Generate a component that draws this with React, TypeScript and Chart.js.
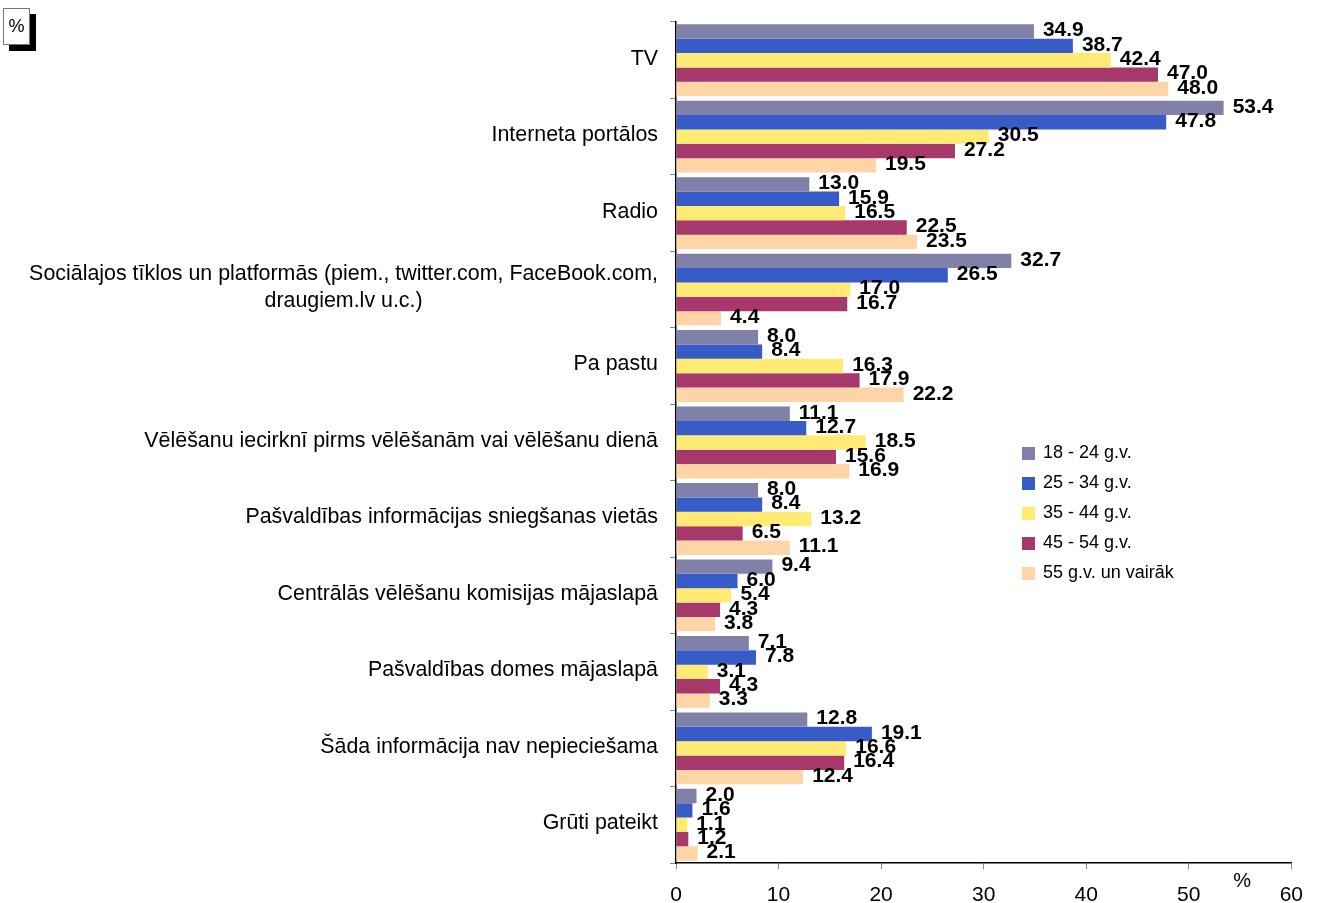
import React, { useEffect, useRef } from "react";
import { Chart, registerables } from "chart.js";

Chart.register(...registerables);

const categories: (string | string[])[] = [
  "TV",
  "Interneta portālos",
  "Radio",
  ["Sociālajos tīklos un platformās (piem., twitter.com, FaceBook.com,", "draugiem.lv u.c.)"],
  "Pa pastu",
  "Vēlēšanu iecirknī pirms vēlēšanām vai vēlēšanu dienā",
  "Pašvaldības informācijas sniegšanas vietās",
  "Centrālās vēlēšanu komisijas mājaslapā",
  "Pašvaldības domes mājaslapā",
  "Šāda informācija nav nepieciešama",
  "Grūti pateikt",
];

const seriesNames = ["18 - 24 g.v.", "25 - 34 g.v.", "35 - 44 g.v.", "45 - 54 g.v.", "55 g.v. un vairāk"];

const age18_24 = [34.9, 53.4, 13.0, 32.7, 8.0, 11.1, 8.0, 9.4, 7.1, 12.8, 2.0];
const age25_34 = [38.7, 47.8, 15.9, 26.5, 8.4, 12.7, 8.4, 6.0, 7.8, 19.1, 1.6];
const age35_44 = [42.4, 30.5, 16.5, 17.0, 16.3, 18.5, 13.2, 5.4, 3.1, 16.6, 1.1];
const age45_54 = [47.0, 27.2, 22.5, 16.7, 17.9, 15.6, 6.5, 4.3, 4.3, 16.4, 1.2];
const age55plus = [48.0, 19.5, 23.5, 4.4, 22.2, 16.9, 11.1, 3.8, 3.3, 12.4, 2.1];

const seriesColors = ["#8080A8", "#375BC7", "#FFEB74", "#A6386B", "#FFD5A8"];

const xMin = 0;
const xMax = 60;
const xStep = 10;

const FONT = '"Liberation Sans", Arial, sans-serif';

export default function App() {
  const canvasRef = useRef<HTMLCanvasElement | null>(null);

  useEffect(() => {
    const canvas = canvasRef.current;
    if (!canvas) return;
    const allSeries = [age18_24, age25_34, age35_44, age45_54, age55plus];

    const valueLabels = {
      id: "valueLabels",
      afterDatasetsDraw(chart: any) {
        const ctx = chart.ctx;
        ctx.save();
        ctx.font = `bold 21px ${FONT}`;
        ctx.fillStyle = "#000";
        ctx.textAlign = "left";
        ctx.textBaseline = "middle";
        chart.data.datasets.forEach((ds: any, di: number) => {
          const meta = chart.getDatasetMeta(di);
          meta.data.forEach((el: any, i: number) => {
            ctx.fillText((ds.data[i] as number).toFixed(1), el.x + 9, el.y - 1);
          });
        });
        ctx.restore();
      },
    };

    const categoryLabels = {
      id: "categoryLabels",
      afterDraw(chart: any) {
        const ctx = chart.ctx;
        const yScale = chart.scales.y;
        const right = chart.chartArea.left - 18;
        ctx.save();
        ctx.font = `21.4px ${FONT}`;
        ctx.fillStyle = "#000";
        ctx.textBaseline = "middle";
        categories.forEach((lab, i) => {
          const yc = yScale.getPixelForValue(i) - 1.5;
          if (Array.isArray(lab)) {
            const maxW = Math.max(...lab.map((l) => ctx.measureText(l).width));
            const cx = right - maxW / 2;
            const lh = 27;
            const y0 = yc - ((lab.length - 1) * lh) / 2;
            ctx.textAlign = "center";
            lab.forEach((l, k) => ctx.fillText(l, cx, y0 + k * lh));
          } else {
            ctx.textAlign = "right";
            ctx.fillText(lab, right, yc);
          }
        });
        // percent unit near x axis
        ctx.font = `20px ${FONT}`;
        ctx.textAlign = "center";
        ctx.fillText("%", chart.scales.x.getPixelForValue(55) + 2, chart.chartArea.bottom + 18);
        // legend
        ctx.font = `18px ${FONT}`;
        const lx = chart.chartArea.left + 346;
        const ly = 453;
        seriesNames.forEach((name, k) => {
          const y = ly + k * 30;
          ctx.fillStyle = seriesColors[k];
          ctx.fillRect(lx, y - 6, 13, 13);
          ctx.fillStyle = "#000";
          ctx.textAlign = "left";
          ctx.fillText(name, lx + 21, y);
        });
        ctx.restore();
      },
    };

    const chart = new Chart(canvas, {
      type: "bar",
      data: {
        labels: categories.map((c) => (Array.isArray(c) ? c.join(" ") : c)),
        datasets: allSeries.map((d, k) => ({
          label: seriesNames[k],
          data: d,
          backgroundColor: seriesColors[k],
          borderWidth: 0,
          categoryPercentage: 0.94,
          barPercentage: 1,
        })),
      },
      options: {
        indexAxis: "y",
        animation: false,
        responsive: true,
        maintainAspectRatio: false,
        layout: { padding: { left: 670, right: 23, top: 22, bottom: 0 } },
        plugins: {
          legend: { display: false },
          tooltip: { enabled: false },
        },
        scales: {
          x: {
            min: xMin,
            max: xMax,
            afterFit: (scale: any) => {
              scale.height = 40;
            },
            ticks: {
              stepSize: xStep,
              color: "#000",
              font: { family: FONT, size: 21 },
              padding: 14,
            },
            grid: {
              drawOnChartArea: false,
              drawTicks: true,
              tickLength: 6,
              color: "#888",
            },
            border: { color: "#000", width: 1.5 },
          },
          y: {
            ticks: { display: false },
            grid: {
              offset: true,
              drawOnChartArea: false,
              drawTicks: true,
              tickLength: 6,
              color: "#888",
            },
            border: { color: "#000", width: 1.5 },
          },
        },
      },
      plugins: [valueLabels, categoryLabels],
    });

    return () => chart.destroy();
  }, []);

  return (
    <div style={{ position: "fixed", left: 0, top: 0, width: 1317, height: 903, background: "#fff" }}>
      <canvas ref={canvasRef} />
      <div
        style={{
          position: "absolute",
          left: 3,
          top: 8,
          width: 27,
          height: 37,
          border: "1px solid #777",
          background: "#fff",
          boxShadow: "6px 6px 0 #000",
          fontFamily: FONT,
          fontSize: 18,
          lineHeight: "34px",
          textAlign: "center",
          boxSizing: "border-box",
        }}
      >
        %
      </div>
    </div>
  );
}
